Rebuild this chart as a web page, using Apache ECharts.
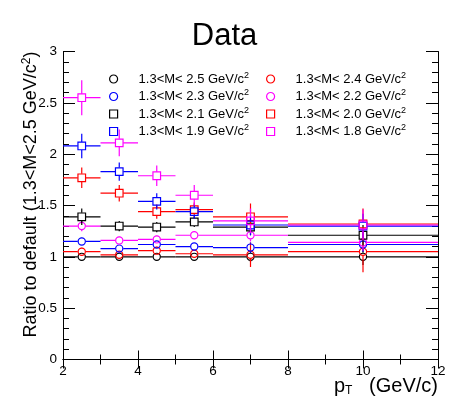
<!DOCTYPE html>
<html>
<head>
<meta charset="utf-8">
<script src="https://cdn.jsdelivr.net/npm/echarts@6/dist/echarts.min.js"></script>
<style>html,body{margin:0;padding:0;background:#fff;}#c{width:449px;height:405px;}</style>
</head>
<body>
<div id="c"></div>
<script>
// ---- data ----
const binLow  = [2, 3, 4, 5, 6, 8];
const binHigh = [3, 4, 5, 6, 8, 12];
const binCenter = [2.5, 3.5, 4.5, 5.5, 7, 10];

const seriesNames = [
  '1.3<M< 2.5 GeV/c', '1.3<M< 2.4 GeV/c', '1.3<M< 2.3 GeV/c', '1.3<M< 2.2 GeV/c',
  '1.3<M< 2.1 GeV/c', '1.3<M< 2.0 GeV/c', '1.3<M< 1.9 GeV/c', '1.3<M< 1.8 GeV/c'
];
const seriesColors = ['#000000', '#ff0000', '#0000ff', '#ff00ff', '#000000', '#ff0000', '#0000ff', '#ff00ff'];
const seriesMarkers = ['circle', 'circle', 'circle', 'circle', 'rect', 'rect', 'rect', 'rect'];

const m25 = [1.00, 1.00, 1.00, 1.00, 1.00, 1.00];
const m24 = [1.05, 1.02, 1.06, 1.03, 1.02, 1.05];
const m23 = [1.15, 1.08, 1.12, 1.10, 1.09, 1.12];
const m22 = [1.30, 1.16, 1.17, 1.21, 1.21, 1.14];
const m21 = [1.39, 1.30, 1.29, 1.34, 1.29, 1.21];
const m20 = [1.77, 1.62, 1.44, 1.46, 1.39, 1.32];
const m19 = [2.08, 1.83, 1.54, 1.44, 1.31, 1.30];
const m18 = [2.55, 2.11, 1.79, 1.60, 1.35, 1.31];

const e25 = [0.04, 0.03, 0.03, 0.03, 0.05, 0.08];
const e24 = [0.04, 0.04, 0.04, 0.04, 0.12, 0.20];
const e23 = [0.04, 0.04, 0.04, 0.04, 0.05, 0.07];
const e22 = [0.05, 0.04, 0.04, 0.04, 0.06, 0.08];
const e21 = [0.08, 0.05, 0.05, 0.05, 0.08, 0.10];
const e20 = [0.10, 0.08, 0.07, 0.07, 0.13, 0.15];
const e19 = [0.12, 0.09, 0.08, 0.07, 0.10, 0.12];
const e18 = [0.17, 0.13, 0.10, 0.10, 0.12, 0.15];

const allValues = [m25, m24, m23, m22, m21, m20, m19, m18];
const allErrors = [e25, e24, e23, e22, e21, e20, e19, e18];

const xTicks = [2, 4, 6, 8, 10, 12];
const yTicks = [0, 0.5, 1, 1.5, 2, 2.5, 3];

// ---- chart ----
const FONT = '"Liberation Sans", Arial, Helvetica, sans-serif';
const chart = echarts.init(document.getElementById('c'), null, {renderer: 'canvas'});

function makeRender(color, marker) {
  return function (params, api) {
    const x0 = api.value(0), x1 = api.value(1), xc = api.value(2), y = api.value(3), e = api.value(4);
    const pc = api.coord([xc, y]);
    const pL = api.coord([x0, y]);
    const pR = api.coord([x1, y]);
    const pT = api.coord([xc, y + e]);
    const pB = api.coord([xc, y - e]);
    const g = 4;
    const st = {stroke: color, lineWidth: 1.2, fill: null};
    const ch = [];
    ch.push({type: 'line', shape: {x1: pL[0], y1: pc[1], x2: pc[0] - g, y2: pc[1]}, style: st});
    ch.push({type: 'line', shape: {x1: pc[0] + g, y1: pc[1], x2: pR[0], y2: pc[1]}, style: st});
    if (pT[1] < pc[1] - g) ch.push({type: 'line', shape: {x1: pc[0], y1: pT[1], x2: pc[0], y2: pc[1] - g}, style: st});
    if (pB[1] > pc[1] + g) ch.push({type: 'line', shape: {x1: pc[0], y1: pc[1] + g, x2: pc[0], y2: pB[1]}, style: st});
    if (marker === 'circle') {
      ch.push({type: 'circle', shape: {cx: pc[0], cy: pc[1], r: 3.6}, style: {stroke: color, lineWidth: 1.2, fill: 'rgba(0,0,0,0)'}});
    } else {
      ch.push({type: 'rect', shape: {x: pc[0] - 3.8, y: pc[1] - 3.8, width: 7.6, height: 7.6}, style: {stroke: color, lineWidth: 1.2, fill: 'rgba(0,0,0,0)'}});
    }
    return {type: 'group', children: ch};
  };
}

const series = seriesNames.map((name, k) => ({
  name: name,
  type: 'custom',
  renderItem: makeRender(seriesColors[k], seriesMarkers[k]),
  data: binCenter.map((c, i) => [binLow[i], binHigh[i], c, allValues[k][i], allErrors[k][i]]),
  encode: {x: [0, 1, 2], y: 3},
  itemStyle: {color: seriesColors[k]},
  clip: true,
  z: 2 + k
}));

function legendItem(k) {
  return {
    name: seriesNames[k],
    icon: seriesMarkers[k] === 'circle' ? 'circle' : 'rect',
    itemStyle: {color: 'rgba(0,0,0,0)', borderColor: seriesColors[k], borderWidth: 1.2}
  };
}
function legendText() {
  return {
    fontFamily: FONT, fontSize: 13, color: '#000',
    rich: {
      t: {fontFamily: FONT, fontSize: 13, color: '#000', padding: [0, 0, 0, 16]},
      s: {fontFamily: FONT, fontSize: 9, color: '#000', padding: [0, 0, 7, 0]}
    }
  };
}
const legendFmt = (n) => '{t|' + n + '}{s|2}';

const axisLineStyle = {show: true, lineStyle: {color: '#000', width: 1}};

chart.setOption({
  animation: false,
  backgroundColor: '#fff',
  title: {
    text: 'Data', left: 'center', top: 16,
    textStyle: {fontFamily: FONT, fontSize: 31, fontWeight: 'normal', color: '#000'}
  },
  grid: {left: 63, right: 11, top: 51.5, bottom: 45.5, containLabel: false},
  legend: [
    {
      orient: 'vertical', align: 'left', left: 104, top: 66, itemWidth: 8, itemHeight: 8, itemGap: 3,
      data: [0, 2, 4, 6].map(legendItem), formatter: legendFmt, textStyle: legendText(),
      selectedMode: false
    },
    {
      orient: 'vertical', align: 'left', left: 261, top: 66, itemWidth: 8, itemHeight: 8, itemGap: 3,
      data: [1, 3, 5, 7].map(legendItem), formatter: legendFmt, textStyle: legendText(),
      selectedMode: false
    }
  ],
  xAxis: [
    {
      type: 'value', min: 2, max: 12, interval: 2, position: 'bottom',
      axisLine: axisLineStyle,
      axisTick: {show: true, inside: true, length: 9, lineStyle: {color: '#000'}},
      minorTick: {show: true, splitNumber: 2, length: 5, lineStyle: {color: '#000'}},
      splitLine: {show: false},
      axisLabel: {fontFamily: FONT, fontSize: 13.5, color: '#000', margin: 5,
        customValues: xTicks, formatter: v => String(v)},
      name: 'p{b|T}   (GeV/c)', nameLocation: 'end', nameGap: 0, nameMoveOverlap: false,
      nameTextStyle: {fontFamily: FONT, fontSize: 20, color: '#000', align: 'right', verticalAlign: 'top',
        padding: [17, 0, 0, 0],
        rich: {b: {fontFamily: FONT, fontSize: 12, color: '#000', padding: [8, 0, 0, 0]}}}
    },
    {
      type: 'value', min: 2, max: 12, interval: 2, position: 'top',
      axisLine: axisLineStyle,
      axisTick: {show: true, inside: true, length: 9, lineStyle: {color: '#000'}},
      minorTick: {show: true, splitNumber: 2, length: 5, lineStyle: {color: '#000'}},
      splitLine: {show: false}, axisLabel: {show: false}
    }
  ],
  yAxis: [
    {
      type: 'value', min: 0, max: 3, interval: 0.5, position: 'left',
      axisLine: axisLineStyle,
      axisTick: {show: true, inside: true, length: 12, lineStyle: {color: '#000'}},
      minorTick: {show: true, splitNumber: 5, length: 6, lineStyle: {color: '#000'}},
      splitLine: {show: false},
      axisLabel: {fontFamily: FONT, fontSize: 13.5, color: '#000', margin: 6,
        customValues: yTicks, formatter: v => String(v)},
      name: 'Ratio to default (1.3<M<2.5 GeV/c{s|2})', nameLocation: 'middle', nameRotate: 90,
      nameGap: 21, nameMoveOverlap: false,
      nameTextStyle: {fontFamily: FONT, fontSize: 18, color: '#000', padding: [0, 0, 0, 22],
        rich: {s: {fontFamily: FONT, fontSize: 12, color: '#000', padding: [0, 0, 9, 0]}}}
    },
    {
      type: 'value', min: 0, max: 3, interval: 0.5, position: 'right',
      axisLine: axisLineStyle,
      axisTick: {show: true, inside: true, length: 12, lineStyle: {color: '#000'}},
      minorTick: {show: true, splitNumber: 5, length: 6, lineStyle: {color: '#000'}},
      splitLine: {show: false}, axisLabel: {show: false}
    }
  ],
  series: series
});
</script>
</body>
</html>
